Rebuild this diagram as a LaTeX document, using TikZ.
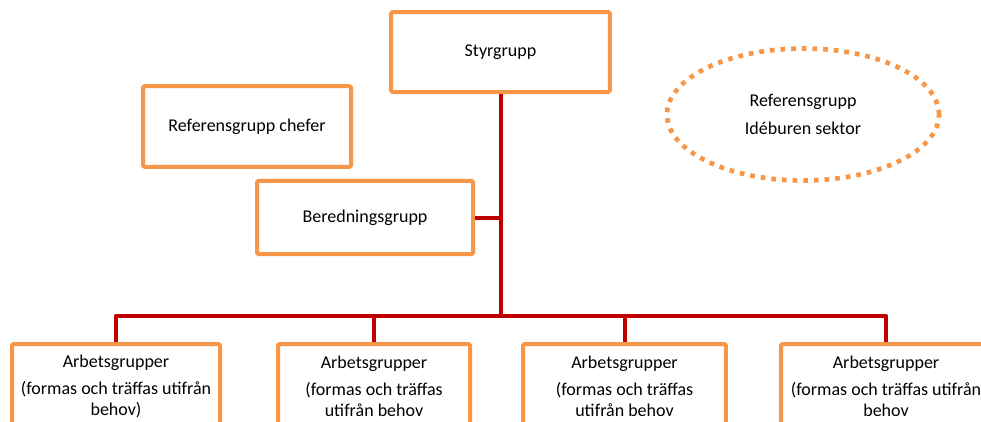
\documentclass[tikz,border=0pt]{standalone}
\usepackage{fontspec}
\setmainfont{Carlito}
\usepackage{tikz}
\usetikzlibrary{shapes.geometric}
\definecolor{orgorange}{HTML}{F79646}
\definecolor{orgred}{HTML}{C00000}

\begin{document}
\begin{tikzpicture}[line cap=round,line join=round,x=0.75pt,y=-0.75pt,
  box/.style={draw=orgorange,line width=3pt,rounded corners=1pt,fill=white,align=center,inner sep=2pt,font=\fontsize{13.5}{15.5}\selectfont},
  refoval/.style={ellipse,draw=orgorange,line width=3.5pt,line cap=butt,dash pattern=on 3.5pt off 4.5pt,align=center,font=\fontsize{13.5}{15.5}\selectfont},
  link/.style={draw=orgred,line width=3pt,line cap=butt}]
\useasboundingbox (0,0) rectangle (981,421);
\clip (0,0) rectangle (981,421);
% topp
\node[box,minimum width=164pt,minimum height=60pt] (styr) at (500.5,52) {Styrgrupp};
\node[box,minimum width=156pt,minimum height=60.5pt] (chef) at (247,126.5) {Referensgrupp chefer};
\node[box,minimum width=162pt,minimum height=55pt] (bered) at (365,217.5) {Beredningsgrupp};
\node[refoval,minimum width=204pt,minimum height=99pt] (ideb) at (803,114.5) {Referensgrupp\\[6pt]Idéburen sektor};
\coordinate (hub) at (500.5,316);
% arbetsgrupper
\node[box,minimum width=156pt,minimum height=63pt] (ag1) at (116,386) {Arbetsgrupper\\[5pt](formas och träffas utifrån\\behov)};
\node[box,minimum width=144pt,minimum height=63pt] (ag2) at (374,386) {Arbetsgrupper\\[5pt](formas och träffas\\utifrån behov};
\node[box,minimum width=152pt,minimum height=63pt] (ag3) at (624.5,386) {Arbetsgrupper\\[5pt](formas och träffas\\utifrån behov};
\node[box,minimum width=157.5pt,minimum height=63pt] (ag4) at (886,386) {Arbetsgrupper\\[5pt](formas och träffas utifrån\\behov};
% linjer
\draw[link] (styr.south) -- (hub);
\draw[link] (bered.east) -- (bered.east -| hub);
\draw[link] (ag1.north) |- (hub) -| (ag4.north);
\draw[link] (ag2.north) -- (ag2.north |- hub);
\draw[link] (ag3.north) -- (ag3.north |- hub);
\end{tikzpicture}
\end{document}
